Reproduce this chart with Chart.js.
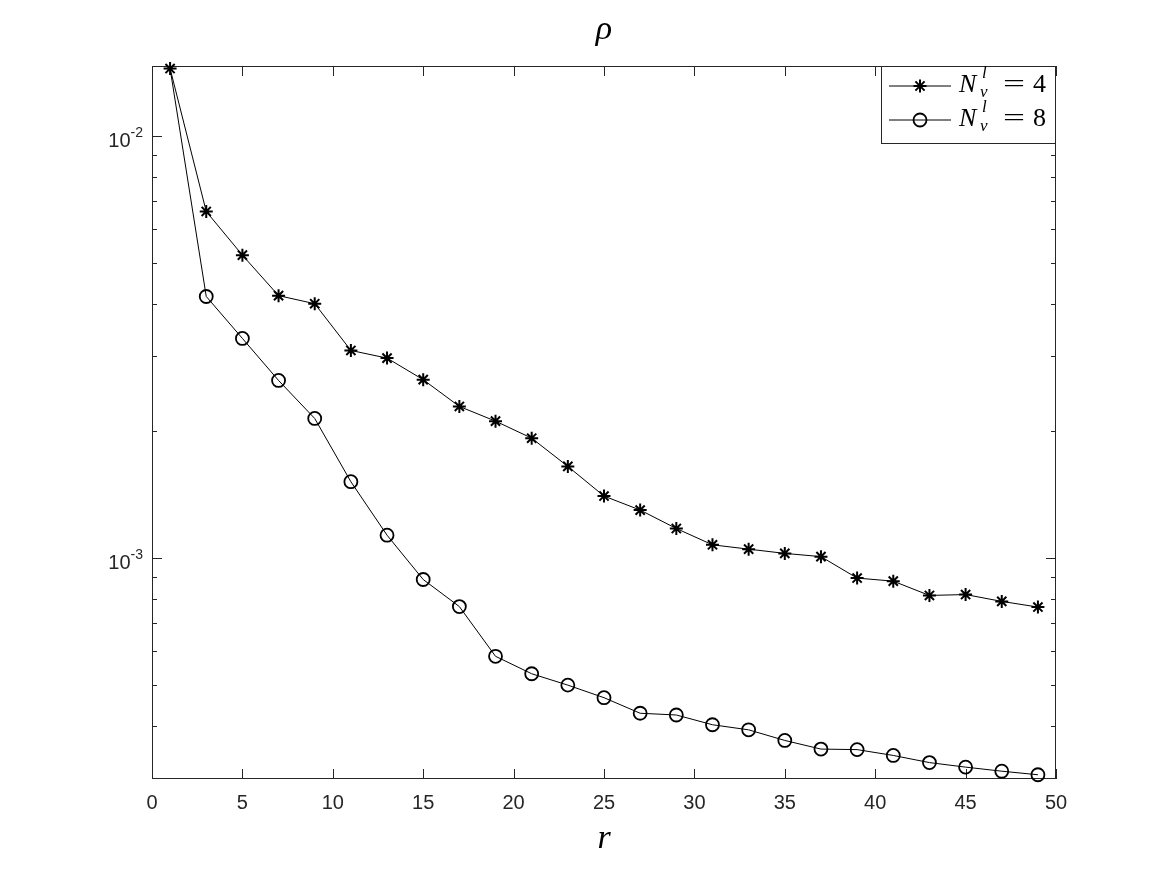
<!DOCTYPE html>
<html>
<head>
<meta charset="utf-8">
<title>rho vs r</title>
<script src="https://cdn.jsdelivr.net/npm/chart.js@4.4.0/dist/chart.umd.min.js"></script>
<style>
    html, body { margin: 0; padding: 0; background: #ffffff; }
</style>
</head>
<body>
<canvas id="rhoChart" width="1167" height="875"></canvas>
<script>
// values (log scale)
const rValues = [1, 3, 5, 7, 9, 11, 13, 15, 17, 19, 21, 23, 25, 27, 29, 31, 33, 35, 37, 39, 41, 43, 45, 47, 49];
const rhoN4 = [0.01443, 0.006615, 0.005212, 0.004179, 0.003999, 0.003099, 0.002972, 0.002642, 0.002283, 0.002107,
               0.001920, 0.001646, 0.001400, 0.001297, 0.001173, 0.001073, 0.001048, 0.001024, 0.001006, 0.000895,
               0.000880, 0.000814, 0.000818, 0.000788, 0.000764];
const rhoN8 = [0.01443, 0.004160, 0.003309, 0.002631, 0.002138, 0.001514, 0.001131, 0.000888, 0.000766, 0.000584,
               0.000531, 0.000499, 0.000466, 0.000428, 0.000424, 0.000402, 0.000391, 0.000369, 0.000352, 0.000351,
               0.000340, 0.000327, 0.000319, 0.000312, 0.000306];
const legendValues = ["4", "8"];

const xTicks = [0, 5, 10, 15, 20, 25, 30, 35, 40, 45, 50];
const yMajorTicks = [1e-3, 1e-2];
const yMajorLabels = ["-3", "-2"];
const yMin = 0.000299;
const yMax = 0.01463;

const axisColor = "#262626";
const sansFont = "'Liberation Sans', Arial, sans-serif";
const serifFont = "'Liberation Serif', 'Times New Roman', serif";
const starRadius = 6.5;
const circleRadius = 6.5;

function toPoints(vals) {
    return rValues.map((r, i) => ({ x: r, y: vals[i] }));
}

// box, inward ticks, y labels, titles and legend drawn like the matlab figure
const matlabFrame = {
    id: "matlabFrame",
    beforeDatasetsDraw(chart) {
        const { ctx, chartArea: a, scales: { x, y } } = chart;
        ctx.save();
        ctx.strokeStyle = axisColor;
        ctx.lineWidth = 1;
        ctx.strokeRect(a.left + 0.5, a.top + 0.5, a.right - a.left - 1, a.bottom - a.top - 1);

        ctx.beginPath();
        xTicks.forEach(v => {
            const px = Math.round(x.getPixelForValue(v)) + 0.5;
            ctx.moveTo(px, a.bottom); ctx.lineTo(px, a.bottom - 10);
            ctx.moveTo(px, a.top); ctx.lineTo(px, a.top + 10);
        });
        for (let e = -4; e <= -2; e++) {
            for (let m = 1; m <= 9; m++) {
                const v = m * Math.pow(10, e);
                if (v < yMin || v > yMax) continue;
                const len = m === 1 ? 10 : 5;
                const py = Math.round(y.getPixelForValue(v)) + 0.5;
                ctx.moveTo(a.left, py); ctx.lineTo(a.left + len, py);
                ctx.moveTo(a.right, py); ctx.lineTo(a.right - len, py);
            }
        }
        ctx.stroke();

        // y labels 10^-n
        ctx.fillStyle = axisColor;
        yMajorTicks.forEach((v, i) => {
            const py = y.getPixelForValue(v);
            const xEnd = a.left - 9;
            ctx.font = "14px " + sansFont;
            ctx.textAlign = "right";
            ctx.textBaseline = "alphabetic";
            const wSup = ctx.measureText(yMajorLabels[i]).width;
            ctx.fillText(yMajorLabels[i], xEnd, py + 1);
            ctx.font = "20px " + sansFont;
            ctx.fillText("10", xEnd - wSup, py + 11.5);
        });

        // title and x label
        ctx.textAlign = "center";
        ctx.textBaseline = "alphabetic";
        ctx.fillStyle = "#000";
        ctx.font = "italic 34px " + serifFont;
        ctx.fillText("\u03C1", (a.left + a.right) / 2, 39);
        ctx.fillText("r", (a.left + a.right) / 2, 848);
        ctx.restore();
    },
    afterDraw(chart) {
        const { ctx, chartArea: a } = chart;
        const bx = 881, by = a.top, bw = a.right - 881, bh = 78;
        ctx.save();
        ctx.fillStyle = "#fff";
        ctx.fillRect(bx, by, bw, bh);
        ctx.strokeStyle = axisColor;
        ctx.lineWidth = 1;
        ctx.strokeRect(bx + 0.5, by + 0.5, bw - 1, bh - 1);

        chart.data.datasets.forEach((ds, i) => {
            const cy = 86 + i * 34;
            ctx.strokeStyle = "#000";
            ctx.lineWidth = 1;
            ctx.beginPath();
            ctx.moveTo(889, cy); ctx.lineTo(951, cy);
            ctx.stroke();
            ctx.fillStyle = ds.pointBackgroundColor;
            ctx.strokeStyle = "#000";
            ctx.lineWidth = ds.pointBorderWidth;
            Chart.helpers.drawPoint(ctx, {
                pointStyle: ds.pointStyle,
                radius: ds.legendRadius,
                borderWidth: ds.pointBorderWidth
            }, 920, cy);

            // N_v^l = k
            ctx.fillStyle = "#000";
            ctx.textAlign = "left";
            ctx.textBaseline = "alphabetic";
            const base = cy + 6;
            ctx.font = "italic 26px " + serifFont;
            ctx.fillText("N", 959, base);
            ctx.font = "italic 17px " + serifFont;
            ctx.fillText("l", 982, base - 14);
            ctx.fillText("v", 980, base + 5);
            ctx.font = "26px " + serifFont;
            ctx.save();
            ctx.translate(1003, base);
            ctx.scale(1.5, 1);
            ctx.fillText("=", 0, 0);
            ctx.restore();
            ctx.fillText(legendValues[i], 1033, base);
        });
        ctx.restore();
    }
};

const ctx = document.getElementById("rhoChart").getContext("2d");
new Chart(ctx, {
    type: "line",
    data: {
        datasets: [
            {
                label: "N_v^l = 4",
                data: toPoints(rhoN4),
                borderColor: "#000",
                borderWidth: 1,
                pointStyle: "star",
                pointRadius: starRadius,
                legendRadius: starRadius,
                pointBorderWidth: 2,
                pointBorderColor: "#000",
                pointBackgroundColor: "#000",
                tension: 0,
                clip: false
            },
            {
                label: "N_v^l = 8",
                data: toPoints(rhoN8),
                borderColor: "#000",
                borderWidth: 1,
                pointStyle: "circle",
                // first marker sits under the star in the figure, not shown there
                pointRadius: c => (c.dataIndex === 0 ? 0 : circleRadius),
                legendRadius: circleRadius,
                pointBorderWidth: 1.8,
                pointBorderColor: "#000",
                pointBackgroundColor: "rgba(0,0,0,0)",
                tension: 0,
                clip: false
            }
        ]
    },
    options: {
        responsive: false,
        animation: false,
        layout: { padding: { left: 0, right: 111, top: 66, bottom: 0 } },
        plugins: {
            legend: { display: false },
            title: { display: false },
            tooltip: { enabled: false }
        },
        scales: {
            x: {
                type: "linear",
                min: 0,
                max: 50,
                afterBuildTicks: s => { s.ticks = xTicks.map(v => ({ value: v })); },
                afterFit: s => { s.height = 96; },
                grid: { display: false, drawTicks: false, tickLength: 0 },
                border: { display: false },
                ticks: {
                    padding: 12,
                    color: axisColor,
                    font: { family: sansFont, size: 20 },
                    maxRotation: 0
                }
            },
            y: {
                type: "logarithmic",
                min: yMin,
                max: yMax,
                afterFit: s => { s.width = 152; },
                grid: { display: false, drawTicks: false, tickLength: 0 },
                border: { display: false },
                ticks: { display: false }
            }
        }
    },
    plugins: [matlabFrame]
});
</script>
</body>
</html>
